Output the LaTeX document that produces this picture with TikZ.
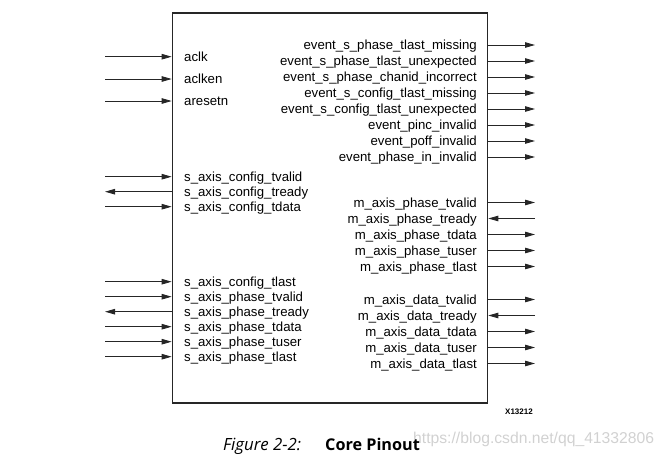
\documentclass[tikz,border=0pt]{standalone}
\usepackage{fontspec}
\setmainfont{Liberation Sans}
\newfontfamily\capfont{Open Sans}
\usetikzlibrary{arrows.meta}

\tikzset{
    core/.style={draw=black!85, line width=1.6pt, minimum width=315pt, minimum height=390pt, inner sep=0pt},
    lpin/.style={anchor=west, inner sep=0pt, text height=9pt, text depth=0pt, font=\fontsize{13.2}{13}\selectfont},
    rpin/.style={anchor=east, inner sep=0pt, text height=9pt, text depth=0pt, font=\fontsize{13.2}{13}\selectfont},
    sig/.style={draw=black!85, line width=0.9pt, -{Triangle[length=10pt,width=5.5pt]}}
}

\begin{document}
\begin{tikzpicture}[x=1pt,y=-1pt]
    \useasboundingbox (0,0) rectangle (665,456);
    \node[core] (ip) at (330,208) {};

    % left side
    \node[lpin] (aclk) at (184,56.7) {aclk};
    \node[lpin] (aclken) at (184,79) {aclken};
    \node[lpin] (aresetn) at (184,101) {aresetn};
    \node[lpin] (cfgvalid) at (184,176.7) {s\_axis\_config\_tvalid};
    \node[lpin] (cfgready) at (184,191.7) {s\_axis\_config\_tready};
    \node[lpin] (cfgdata) at (184,206.7) {s\_axis\_config\_tdata};
    \node[lpin] (cfglast) at (184,281.7) {s\_axis\_config\_tlast};
    \node[lpin] (sphvalid) at (184,296.7) {s\_axis\_phase\_tvalid};
    \node[lpin] (sphready) at (184,311.7) {s\_axis\_phase\_tready};
    \node[lpin] (sphdata) at (184,326.7) {s\_axis\_phase\_tdata};
    \node[lpin] (sphuser) at (184,341.7) {s\_axis\_phase\_tuser};
    \node[lpin] (sphlast) at (184,356.7) {s\_axis\_phase\_tlast};

    \coordinate (aclk-x) at (105,56.7);
    \coordinate (aclken-x) at (105,79);
    \coordinate (aresetn-x) at (105,101);
    \coordinate (cfgvalid-x) at (105,176.7);
    \coordinate (cfgready-x) at (105,191.7);
    \coordinate (cfgdata-x) at (105,206.7);
    \coordinate (cfglast-x) at (105,281.7);
    \coordinate (sphvalid-x) at (105,296.7);
    \coordinate (sphready-x) at (105,311.7);
    \coordinate (sphdata-x) at (105,326.7);
    \coordinate (sphuser-x) at (105,341.7);
    \coordinate (sphlast-x) at (105,356.7);

    \draw[sig] (aclk-x) -- (aclk-x -| ip.west);
    \draw[sig] (aclken-x) -- (aclken-x -| ip.west);
    \draw[sig] (aresetn-x) -- (aresetn-x -| ip.west);
    \draw[sig] (cfgvalid-x) -- (cfgvalid-x -| ip.west);
    \draw[sig] (cfgready-x -| ip.west) -- (cfgready-x);
    \draw[sig] (cfgdata-x) -- (cfgdata-x -| ip.west);
    \draw[sig] (cfglast-x) -- (cfglast-x -| ip.west);
    \draw[sig] (sphvalid-x) -- (sphvalid-x -| ip.west);
    \draw[sig] (sphready-x -| ip.west) -- (sphready-x);
    \draw[sig] (sphdata-x) -- (sphdata-x -| ip.west);
    \draw[sig] (sphuser-x) -- (sphuser-x -| ip.west);
    \draw[sig] (sphlast-x) -- (sphlast-x -| ip.west);

    % right side
    \node[rpin] (ev1) at (477,45) {event\_s\_phase\_tlast\_missing};
    \node[rpin] (ev2) at (477,61) {event\_s\_phase\_tlast\_unexpected};
    \node[rpin] (ev3) at (477,77) {event\_s\_phase\_chanid\_incorrect};
    \node[rpin] (ev4) at (477,93) {event\_s\_config\_tlast\_missing};
    \node[rpin] (ev5) at (477,109) {event\_s\_config\_tlast\_unexpected};
    \node[rpin] (ev6) at (477,125) {event\_pinc\_invalid};
    \node[rpin] (ev7) at (477,141) {event\_poff\_invalid};
    \node[rpin] (ev8) at (477,157) {event\_phase\_in\_invalid};
    \node[rpin] (mphvalid) at (477,202.5) {m\_axis\_phase\_tvalid};
    \node[rpin] (mphready) at (477,218.5) {m\_axis\_phase\_tready};
    \node[rpin] (mphdata) at (477,234.5) {m\_axis\_phase\_tdata};
    \node[rpin] (mphuser) at (477,250.5) {m\_axis\_phase\_tuser};
    \node[rpin] (mphlast) at (477,266.5) {m\_axis\_phase\_tlast};
    \node[rpin] (mdvalid) at (477,299.5) {m\_axis\_data\_tvalid};
    \node[rpin] (mdready) at (477,315.5) {m\_axis\_data\_tready};
    \node[rpin] (mddata) at (477,331.5) {m\_axis\_data\_tdata};
    \node[rpin] (mduser) at (477,347.5) {m\_axis\_data\_tuser};
    \node[rpin] (mdlast) at (477,363.5) {m\_axis\_data\_tlast};

    \coordinate (ev1-x) at (535,45);
    \coordinate (ev2-x) at (535,61);
    \coordinate (ev3-x) at (535,77);
    \coordinate (ev4-x) at (535,93);
    \coordinate (ev5-x) at (535,109);
    \coordinate (ev6-x) at (535,125);
    \coordinate (ev7-x) at (535,141);
    \coordinate (ev8-x) at (535,157);
    \coordinate (mphvalid-x) at (535,202.5);
    \coordinate (mphready-x) at (535,218.5);
    \coordinate (mphdata-x) at (535,234.5);
    \coordinate (mphuser-x) at (535,250.5);
    \coordinate (mphlast-x) at (535,266.5);
    \coordinate (mdvalid-x) at (535,299.5);
    \coordinate (mdready-x) at (535,315.5);
    \coordinate (mddata-x) at (535,331.5);
    \coordinate (mduser-x) at (535,347.5);
    \coordinate (mdlast-x) at (535,363.5);

    \draw[sig] (ev1-x -| ip.east) -- (ev1-x);
    \draw[sig] (ev2-x -| ip.east) -- (ev2-x);
    \draw[sig] (ev3-x -| ip.east) -- (ev3-x);
    \draw[sig] (ev4-x -| ip.east) -- (ev4-x);
    \draw[sig] (ev5-x -| ip.east) -- (ev5-x);
    \draw[sig] (ev6-x -| ip.east) -- (ev6-x);
    \draw[sig] (ev7-x -| ip.east) -- (ev7-x);
    \draw[sig] (ev8-x -| ip.east) -- (ev8-x);
    \draw[sig] (mphvalid-x -| ip.east) -- (mphvalid-x);
    \draw[sig] (mphready-x) -- (mphready-x -| ip.east);
    \draw[sig] (mphdata-x -| ip.east) -- (mphdata-x);
    \draw[sig] (mphuser-x -| ip.east) -- (mphuser-x);
    \draw[sig] (mphlast-x -| ip.east) -- (mphlast-x);
    \draw[sig] (mdvalid-x -| ip.east) -- (mdvalid-x);
    \draw[sig] (mdready-x) -- (mdready-x -| ip.east);
    \draw[sig] (mddata-x -| ip.east) -- (mddata-x);
    \draw[sig] (mduser-x -| ip.east) -- (mduser-x);
    \draw[sig] (mdlast-x -| ip.east) -- (mdlast-x);

    % figure number and caption
    \node[anchor=base, inner sep=0pt, font=\bfseries\fontsize{8}{8}\selectfont] (xnum) at (519,414) {X13212};
    \node[anchor=base west, inner sep=0pt, text=black!18, font=\fontsize{15.7}{16}\selectfont] (wmark) at (413,443) {https://blog.csdn.net/qq\_41332806};
    \node[anchor=base west, inner sep=0pt, font=\capfont\itshape\fontsize{16.8}{17}\selectfont] (fignum) at (223,450) {Figure 2-2:};
    \node[anchor=base west, inner sep=0pt, font=\capfont\bfseries\fontsize{16.2}{17}\selectfont] (figcap) at (325,450) {Core Pinout};
\end{tikzpicture}
\end{document}
